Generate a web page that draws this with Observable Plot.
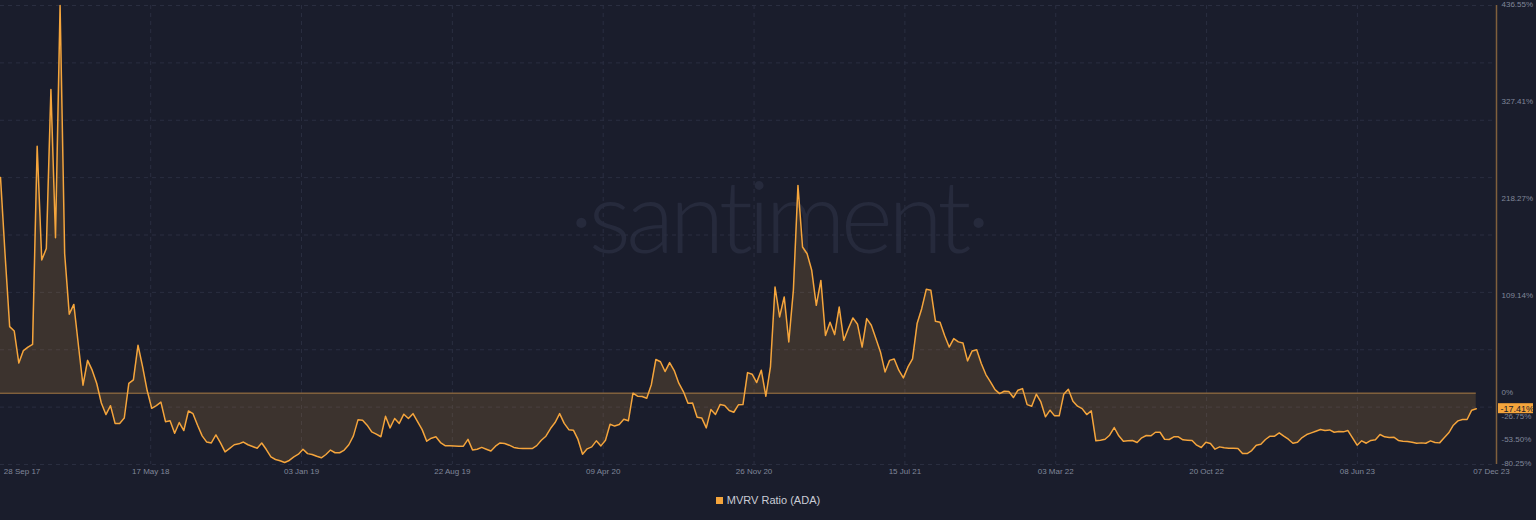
<!DOCTYPE html>
<html><head><meta charset="utf-8">
<script src="https://cdn.jsdelivr.net/npm/d3@7"></script>
<script src="https://cdn.jsdelivr.net/npm/@observablehq/plot@0.6"></script>
<style>
html,body{margin:0;padding:0;background:#1a1d2c;}
#chart{height:480px;}
#legend{height:40px;display:flex;align-items:center;justify-content:center;font:11px "Liberation Sans",Arial,sans-serif;color:#c9ccd6;}
#legend .sw{display:inline-block;width:7px;height:7px;background:#f5a53c;margin-right:4px;}
</style></head>
<body>
<div id="chart"></div>
<div id="legend"><span class="sw"></span><span>MVRV Ratio (ADA)</span></div>
<script>
const seriesName = "MVRV Ratio (ADA)";
const startDate = "2017-09-29";
const endDate = "2023-12-07";
const axisEndDate = "2024-01-07";
const mvrv = [
243,156,75,70,34,48,52,55,278,150,163,342,175,436.55,157,89,100,54,9,37,
26,11,-11,-24,-14,-34,-34,-28,11,15,54,30,3,-17,-14,-10,-32,-31,-45,-33,
-42,-20,-23,-36,-48,-55,-56,-47,-56,-66,-62,-58,-57,-55,-58,-60,-62,-56,
-63.4,-71.6,-74.6,-76,-78,-75.7,-71.6,-68.6,-63,-68,-69,-71,-72.7,-69,-64,-67,-67,-64,-58,-48,
-30,-30.4,-36,-43.5,-46,-49,-26,-39,-28.5,-34,-23.6,-28.5,-23,-32,-41,-54,-50.6,-49,-55.5,-59,
-59,-59.3,-59.6,-59.6,-52,-64,-63,-61,-63,-65,-59.6,-56,-56.6,-58.5,
-61,-61.9,-62.2,-62.3,-62.3,-59,-53,-48.4,-39.8,-33,-23,-34,-41,-41.6,-52,-68.6,-62.6,-60.4,-53.6,-59.3,
-53,-35,-37,-35.3,-29.4,-31,0,-3.4,-3.7,-5.6,9.4,38,35.4,24.4,34.5,25.5,11.3,1.9,-11.2,-10.9,
-27,-27.8,-39,-18.4,-24,-12.8,-13.9,-19.5,-21.4,-13.1,-12.8,
23.2,21.4,12,25.9,-3.4,29.6,119.6,85.9,108.4,57.8,115.9,234,164.6,157,138.4,99,127,65,80,66,
97,59.6,72.8,84.8,77.6,52,84,76.5,61.5,46.5,24,37,38.6,25.9,17.3,29.6,38.6,78.4,95.2,117,
115.9,81,80,65,52,61.5,57.8,56.6,36.4,47.6,49,33.4,21,12.8,4.1,-0.4,2.2,1.9,-4.9,3.4,
5.2,-12.8,-14.6,-1.1,-9.8,-26.6,-19.1,-25.5,-25.5,-1.1,4.5,-9,-14.6,-17.3,-24,-19.9,-53.6,-52.9,-51.8,-47.3,
-38.6,-48,-54,-53.6,-53.2,-55.5,-50.2,-47.6,-48,-43.9,-43.9,-51.8,-52.1,-49.1,-49.1,-52.5,-52.9,-53.2,-58.5,-61.1,
-55.1,-56.6,-63,-60.4,-61.5,-61.9,-61.9,-62.3,-67.9,-67.9,-64.5,-58.5,
-57.4,-52.1,-48.4,-48.4,-44.6,-48.4,-51.8,-56.3,-55.1,-49.9,-46.5,-44.6,-42.75,-40.9,-42,-41.3,-43.9,-43.1,-43.5,-42,
-50.2,-58.5,-53.6,-56.3,-53.2,-52.5,-46.5,-49.1,-49.9,-49.5,-53.2,-54,-54.4,-55.1,-56.3,-55.9,-56.3,-53.6,-55.5,-55.9,
-50.2,-44.6,-36,-31.1,-29.6,-29.6,-19.1,-17.41
];
const xTickDates = ["2017-09-28","2018-05-17","2019-01-03","2019-08-22","2020-04-09","2020-11-26","2021-07-15","2022-03-03","2022-10-20","2023-06-08","2023-12-07"];
const xTickLabels = ["28 Sep 17","17 May 18","03 Jan 19","22 Aug 19","09 Apr 20","26 Nov 20","15 Jul 21","03 Mar 22","20 Oct 22","08 Jun 23","07 Dec 23"];
const yTicks = [436.55, 327.41, 218.27, 109.14, 0, -26.75, -53.50, -80.25];
const yTickLabels = ["436.55%","327.41%","218.27%","109.14%","0%","-26.75%","-53.50%","-80.25%"];
const gridY = [436.55, 371.95, 307.35, 242.75, 178.15, 113.55, 48.95, -15.65, -80.25];
const lastLabel = "-17.41%";
const watermark = "·santiment·";

const t0 = new Date(startDate), t1 = new Date(endDate), tEnd = new Date(axisEndDate);
const n = mvrv.length;
const data = mvrv.map((v, i) => ({date: new Date(+t0 + i * (t1 - t0) / (n - 1)), v}));
const last = data[n - 1];
const ticks = xTickDates.map((d, i) => ({date: new Date(d), label: xTickLabels[i]}));
const midTicks = ticks.slice(1, -1);

const orange = "#f5a53c", grid = "#2a2e40", brown = "#80603c", tickColor = "#80879a";
const font = "Liberation Sans, Arial, sans-serif";

const chart = Plot.plot({
  width: 1536, height: 480,
  marginLeft: 0, marginRight: 40, marginTop: 5, marginBottom: 16,
  style: {background: "#1a1d2c", fontFamily: font, overflow: "visible"},
  x: {type: "utc", domain: [t0, tEnd], axis: null},
  y: {domain: [-80.25, 436.55], axis: null},
  marks: [
    Plot.text([watermark], {frameAnchor: "top-left", dx: 777, dy: 176, textAnchor: "middle", text: d => d,
      fill: "#262a3c", fontSize: 100, fontFamily: "Lato, Open Sans, sans-serif", fontWeight: 300}),
    Plot.ruleX(midTicks, {x: "date", stroke: grid, strokeDasharray: "4,4"}),
    Plot.ruleY(gridY, {stroke: grid, strokeDasharray: "4,4"}),
    Plot.areaY(data, {x: "date", y1: 0, y2: "v", fill: orange, fillOpacity: 0.16}),
    Plot.ruleY([0], {x1: t0, x2: t1, stroke: brown, strokeWidth: 1.5}),
    Plot.lineY(data, {x: "date", y: "v", stroke: orange, strokeWidth: 1.5}),
    Plot.ruleX([tEnd], {stroke: brown, strokeWidth: 1.5}),
    Plot.text(yTicks, {x: tEnd, y: d => d, text: (d, i) => yTickLabels[i], dx: 5, dy: -1, textAnchor: "start",
      fill: tickColor, fontSize: 8}),
    Plot.rect([last], {x1: tEnd, x2: tEnd, y1: "v", y2: "v", insetLeft: 2, insetRight: -37,
      insetTop: -5, insetBottom: -5, fill: orange}),
    Plot.text([last], {x: tEnd, y: "v", text: () => lastLabel, dx: 4, textAnchor: "start",
      fill: "#1a1d2c", fontSize: 9}),
    Plot.text(midTicks, {x: "date", text: "label", frameAnchor: "bottom", dy: 9, fill: tickColor, fontSize: 8}),
    Plot.text([ticks[0]], {x: "date", text: "label", frameAnchor: "bottom", dy: 9, dx: 4, textAnchor: "start", fill: tickColor, fontSize: 8}),
    Plot.text([ticks[ticks.length - 1]], {x: "date", text: "label", frameAnchor: "bottom", dy: 9, dx: -3, textAnchor: "start", fill: tickColor, fontSize: 8})
  ]
});
document.getElementById("chart").appendChild(chart);
d3.select(chart).selectAll("text").filter(function() { return this.textContent === watermark; })
  .style("letter-spacing", "-5px");
</script>
</body></html>
